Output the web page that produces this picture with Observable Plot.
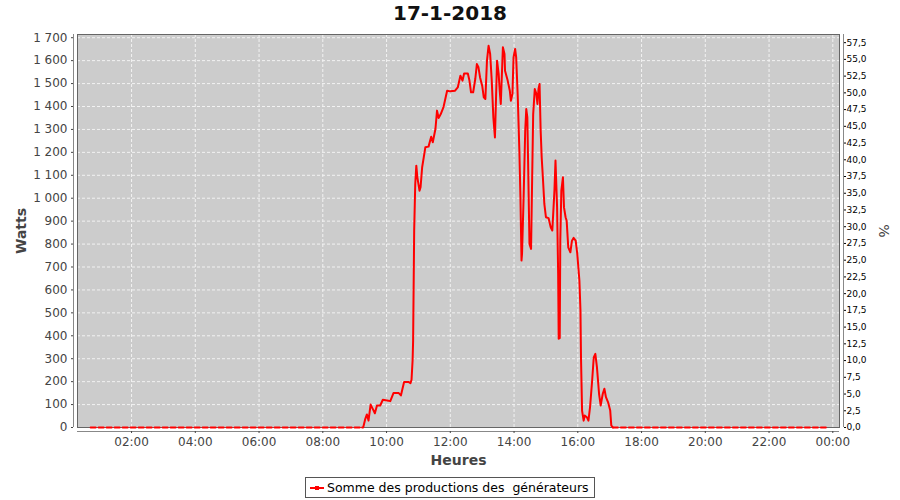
<!DOCTYPE html>
<html>
<head>
<meta charset="utf-8">
<script src="https://cdn.jsdelivr.net/npm/d3@7"></script>
<script src="https://cdn.jsdelivr.net/npm/@observablehq/plot@0.6"></script>
<style>
  html, body { margin: 0; padding: 0; background: white; }
  #wrap { position: relative; width: 900px; height: 500px; font-family: "DejaVu Sans", sans-serif; }
  #title { position: absolute; left: 0; top: 0; width: 900px; text-align: center; font-weight: bold; font-size: 20px; line-height: 26px; color: #111; }
  #chart { position: absolute; left: 0; top: 28px; }
  #legend { position: absolute; left: 305px; top: 477px; width: 288px; height: 19px; border: 1px solid #555; background: white; }
  #legend svg { position: absolute; left: 3px; top: 4px; }
  #legend span { position: absolute; left: 21px; top: 1px; font-size: 12.5px; line-height: 17px; color: #000; white-space: pre; }
</style>
</head>
<body>
<div id="wrap">
  <div id="title"></div>
  <div id="chart"></div>
  <div id="legend"></div>
</div>
<script>
const chartTitle = "17-1-2018";
const seriesName = "Somme des productions des  générateurs";
const xLabel = "Heures";
const yLabel = "Watts";
const y2Label = "%";

const xTickLabels = ["02:00","04:00","06:00","08:00","10:00","12:00","14:00","16:00","18:00","20:00","22:00","00:00"];
const yTicks = [0,100,200,300,400,500,600,700,800,900,1000,1100,1200,1300,1400,1500,1600,1700];
const pctTicks = [0,2.5,5,7.5,10,12.5,15,17.5,20,22.5,25,27.5,30,32.5,35,37.5,40,42.5,45,47.5,50,52.5,55,57.5];
const wattsPerPct = 29.19;

// night periods at zero production
const nightStart = ["00:43", "17:06"];
const nightEnd   = ["09:14", "23:47"];

// daytime production
const times = ["09:14","09:16","09:20","09:23","09:26","09:30","09:34","09:38","09:42","09:48","09:53",
  "10:01","10:07","10:13","10:23","10:27","10:33","10:42","10:45","10:47","10:49","10:50","10:52","10:54","10:56","10:58",
  "11:02","11:04","11:07","11:10","11:13","11:19","11:24","11:27","11:32","11:35","11:38","11:42","11:47","11:54",
  "12:00","12:09","12:14","12:19","12:23","12:26","12:33","12:36","12:39","12:43","12:47","12:50","12:53","12:56",
  "13:00","13:03","13:06","13:09","13:12","13:15","13:18","13:21","13:24","13:28","13:31","13:33","13:35","13:39","13:42","13:43","13:48","13:52","13:54","13:57","13:59",
  "14:02","14:04","14:07","14:10","14:12","14:14","14:15","14:18","14:21","14:23","14:25","14:27","14:29","14:32","14:34","14:36","14:39","14:42","14:44","14:46","14:48","14:50","14:52","14:54","14:57",
  "15:00","15:05","15:09","15:12","15:16","15:18","15:21","15:23","15:24","15:26","15:27","15:29","15:32","15:34","15:37","15:39","15:42","15:46","15:49","15:52","15:56","15:59",
  "16:03","16:05","16:06","16:08","16:11","16:13","16:17","16:20","16:23","16:27","16:30","16:33","16:36","16:40","16:43","16:47","16:50","16:53","16:57",
  "17:01","17:03","17:06"];
const watts = [0,0,38,57,30,100,81,62,96,96,121,
  118,115,150,150,140,198,198,193,208,292,379,859,1062,1142,1091,
  1033,1048,1135,1178,1222,1225,1268,1244,1302,1382,1350,1367,1396,1469,
  1466,1469,1483,1534,1513,1544,1544,1513,1462,1462,1520,1585,1571,1527,
  1491,1440,1433,1600,1665,1629,1513,1353,1265,1600,1542,1469,1411,1658,1629,1556,1513,1469,1425,1455,1614,
  1651,1614,1440,1207,1004,728,757,1004,1295,1389,1353,1077,801,779,1077,1367,1476,1455,1411,1476,1498,1300,1178,1100,975,
  917,913,873,859,1033,1164,960,670,387,390,815,1033,1091,960,917,902,786,764,815,827,815,757,
  641,510,306,74,30,52,45,30,88,205,306,321,263,147,96,147,169,132,110,
  74,9,0];

const hours = s => { const [h, m] = s.split(":").map(Number); return h + m / 60; };
const xTickVals = xTickLabels.map((t, i) => (i + 1) * 2);
const day = times.map((t, i) => ({x: hours(t), y: watts[i]}));
const nights = nightStart.map((s, i) => [{x: hours(s), y: 0}, {x: hours(nightEnd[i]), y: 0}]);

const xDomain = [0.304, 24.21];
const yDomain = [0, 1714];
const fmtW = d3.formatLocale({decimal: ",", thousands: " ", grouping: [3], currency: ["", ""]}).format(",d");
const fmtP = d => (d / wattsPerPct).toFixed(1).replace(".", ",");

const plot = Plot.plot({
  width: 900, height: 447,
  marginTop: 6, marginBottom: 48, marginLeft: 77, marginRight: 61,
  style: {fontFamily: "DejaVu Sans", fontSize: "12px", color: "#444", background: "white", overflow: "visible"},
  x: {domain: xDomain, axis: null},
  y: {domain: yDomain, axis: null},
  marks: [
    Plot.frame({fill: "#cccccc"}),
    Plot.gridX(xTickVals, {stroke: "#f2f2f2", strokeOpacity: 1, strokeDasharray: "3,2"}),
    Plot.gridY(yTicks, {stroke: "#f2f2f2", strokeOpacity: 1, strokeDasharray: "3,2"}),
    Plot.frame({stroke: "#666"}),
    // axis lines offset from the plot frame
    Plot.ruleX([xDomain[0]], {dx: -4, stroke: "#888"}),
    Plot.ruleX([xDomain[1]], {dx: 4, stroke: "#888"}),
    Plot.ruleY([yDomain[0]], {dy: 4, stroke: "#888"}),
    Plot.axisY(yTicks, {anchor: "left", dx: -4, tickSize: 2, tickPadding: 4, tickFormat: fmtW, label: null, color: "#444", fontSize: 12}),
    Plot.axisY(pctTicks.map(p => p * wattsPerPct), {anchor: "right", dx: 4, tickSize: 2, tickPadding: 1, tickFormat: fmtP, label: null, color: "#000", fontSize: 9}),
    Plot.axisX(xTickVals, {anchor: "bottom", dy: 4, tickSize: 2, tickPadding: 4, tickFormat: d => xTickLabels[xTickVals.indexOf(d)], label: null, color: "#444", fontSize: 12}),
    Plot.text([yLabel], {frameAnchor: "left", dx: -56, rotate: -90, textAnchor: "middle", lineAnchor: "middle", fontWeight: "bold", fontSize: 14, fill: "#444"}),
    Plot.text([y2Label], {frameAnchor: "right", dx: 44, rotate: 90, textAnchor: "middle", lineAnchor: "middle", fontSize: 14, fill: "#444"}),
    Plot.text([xLabel], {frameAnchor: "bottom", dy: 33, textAnchor: "middle", lineAnchor: "middle", fontWeight: "bold", fontSize: 14, fill: "#444"}),
    ...nights.map(n => Plot.line(n, {x: "x", y: "y", stroke: "red", strokeWidth: 2, strokeDasharray: "5,3"})),
    Plot.line(day, {x: "x", y: "y", stroke: "red", strokeWidth: 2, strokeLinejoin: "round"})
  ]
});
document.getElementById("chart").appendChild(plot);
document.getElementById("title").textContent = chartTitle;
const legend = document.getElementById("legend");
legend.innerHTML = '<svg width="16" height="12"><line x1="1" y1="6" x2="15" y2="6" stroke="red" stroke-width="2"/><rect x="6" y="4" width="4" height="4" fill="red"/></svg><span></span>';
legend.querySelector("span").textContent = seriesName;
</script>
</body>
</html>
